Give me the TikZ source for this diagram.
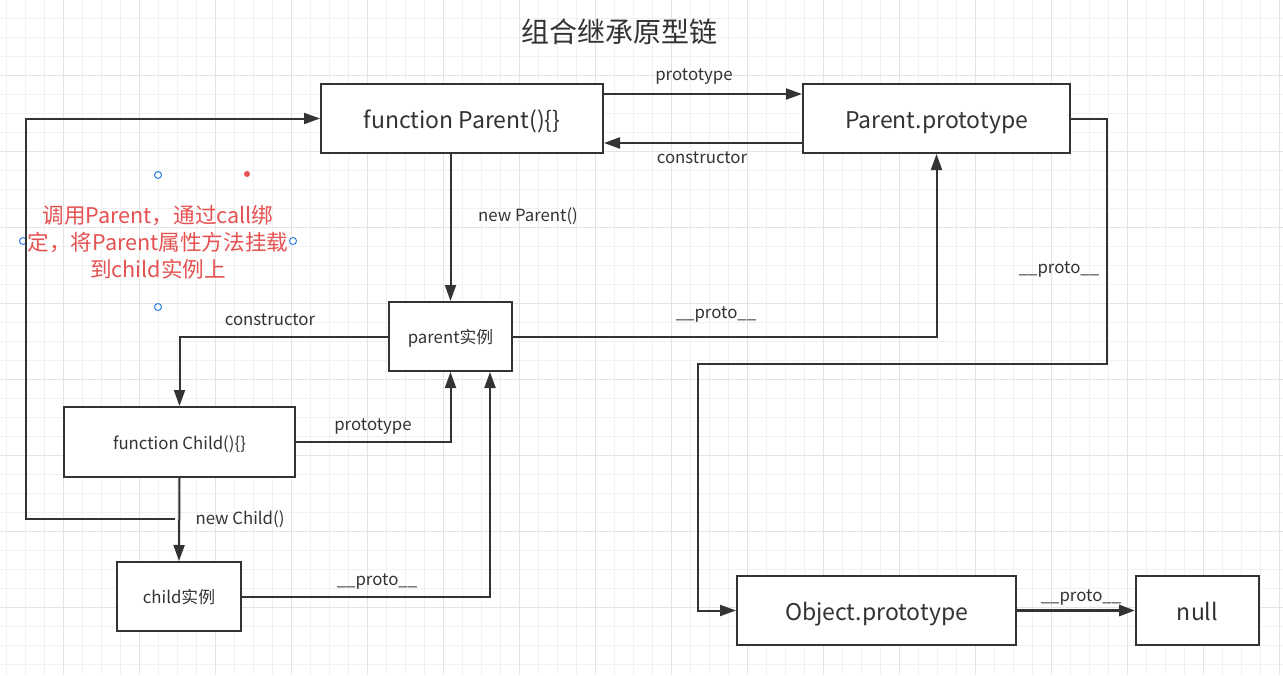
\documentclass[tikz,border=0pt]{standalone}
\usepackage{fontspec}
\setmainfont{Noto Sans CJK SC}
\usetikzlibrary{arrows.meta}
\definecolor{linegray}{HTML}{333333}
\definecolor{textgray}{HTML}{333333}
\definecolor{noteRed}{HTML}{E65252}
\definecolor{gridMinor}{HTML}{F1F1F1}
\definecolor{gridMajor}{HTML}{E3E3E3}
\definecolor{handleBlue}{HTML}{2D7FE0}

\begin{document}
\begin{tikzpicture}[x=1pt, y=-1pt,
		node_style/.style={rectangle,draw=linegray,line width=2pt,fill=white,inner sep=0pt,
			minimum height=69pt,text=textgray,text height=21pt,text depth=2pt,
			font=\fontsize{23pt}{27pt}\selectfont},
		node_small/.style={node_style,text height=16pt,text depth=2pt,font=\fontsize{16.8pt}{20pt}\selectfont},
		label_style/.style={text=textgray,inner sep=0pt,anchor=base,font=\fontsize{16.8pt}{20pt}\selectfont},
		edge_style/.style={draw=linegray,line width=2pt},
		arrow_style/.style={edge_style,-{Triangle[length=16pt,width=11pt]}}]

		% canvas
		\fill[white] (0,0) rectangle (1283,675);
		\useasboundingbox (0,0) rectangle (1283,675);
		\foreach \x in {6.3,25.3,...,1283} \draw[gridMinor,line width=1pt] (\x,0) -- (\x,675);
		\foreach \y in {18.3,37.3,...,675} \draw[gridMinor,line width=1pt] (0,\y) -- (1283,\y);
		\foreach \x in {63.3,139.3,...,1283} \draw[gridMajor,line width=1pt] (\x,0) -- (\x,675);
		\foreach \y in {75.3,151.3,...,675} \draw[gridMajor,line width=1pt] (0,\y) -- (1283,\y);

		\node[text=textgray,font=\fontsize{28pt}{32pt}\selectfont] (title) at (619,32) {组合继承原型链};

		\node[node_style,minimum width=282pt] (parent) at (462,118.5) {function Parent()\{\}};
		\node[node_style,minimum width=267pt] (proto) at (936.5,118.5) {Parent.prototype};
		\node[node_small,minimum width=123pt] (pinst) at (450.5,336.5) {parent实例};
		\node[node_small,minimum width=231pt,minimum height=70pt] (child) at (179.5,442) {function Child()\{\}};
		\node[node_small,minimum width=124pt] (cinst) at (179,596.5) {child实例};
		\node[node_style,minimum width=279pt] (object) at (876.5,610.5) {Object.prototype};
		\node[node_style,minimum width=123pt] (null) at (1197.5,610.5) {null};

		% note with selection handles
		\node[text=noteRed,align=center,font=\fontsize{21.6pt}{27pt}\selectfont] (note) at (158,242)
			{调用Parent，通过call绑\\定，将Parent属性方法挂载\\到child实例上};
		\foreach \p in {(158,175),(23,241),(293,241),(158,307)}
			\draw[handleBlue,fill=white,line width=1pt] \p circle (3.5);
		\fill[noteRed] (247,174) circle (3);

		\coordinate (call_start) at (175,519);
		\coordinate (call_corner) at (26,519);
		\coordinate (bend_a) at (1107,364);
		\coordinate (bend_b) at (698,364);

		\draw[arrow_style] ([yshift=-11pt]parent.north east) -- ([yshift=-11pt]proto.north west);
		\draw[arrow_style] ([yshift=11pt]proto.south west) -- ([yshift=11pt]parent.south east);
		\draw[arrow_style] (pinst.north |- parent.south) -- (pinst.north);
		\draw[arrow_style] (pinst.west) -| (child.north);
		\draw[arrow_style] (child.east) -| (pinst.south);
		\draw[arrow_style] (child.south) -- (cinst.north);
		\draw[arrow_style] (cinst.east) -| ([xshift=39.5pt]pinst.south);
		\draw[arrow_style] (call_start) -- (call_corner) |- (parent.west);
		\draw[arrow_style] (pinst.east) -| (proto.south);
		\draw[arrow_style] (proto.east) -| (bend_a) -- (bend_b) |- (object.west);
		\draw[arrow_style,line width=3pt] (object.east) -- (null.west);

		\node[label_style] (l_proto1) at (694,80.7) {prototype};
		\node[label_style] (l_cons1) at (702,163) {constructor};
		\node[label_style] (l_newp) at (528,221) {new Parent()};
		\node[label_style] (l_cons2) at (270,325) {constructor};
		\node[label_style] (l_proto2) at (373,430.7) {prototype};
		\node[label_style] (l_newc) at (240,524.7) {new Child()};
		\node[label_style] (l_pp1) at (377,585.3) {\_\_proto\_\_};
		\node[label_style] (l_pp2) at (716,318.3) {\_\_proto\_\_};
		\node[label_style] (l_pp3) at (1059,273.3) {\_\_proto\_\_};
		\node[label_style] (l_pp4) at (1081,601.5) {\_\_proto\_\_};

		\end{tikzpicture}
\end{document}
